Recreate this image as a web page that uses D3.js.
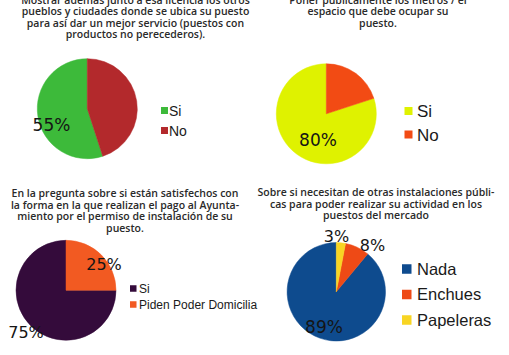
<!DOCTYPE html>
<html><head><meta charset="utf-8">
<script src="https://cdn.jsdelivr.net/npm/d3@7"></script>
<style>body{margin:0;background:#fff}svg{display:block}</style>
</head><body>
<svg id="c" width="509" height="355"></svg>
<script>
// Chart 1
const cats1 = ["Si", "No"];
const vals1 = [55, 45];
const cols1 = ["#3dba3a", "#b3292c"];
const title1 = ["Mostrar además junto a esa licencia los otros", "pueblos y ciudades donde se ubica su puesto", "para así dar un mejor servicio (puestos con", "productos no perecederos)."];
// Chart 2
const cats2 = ["Si", "No"];
const vals2 = [80, 20];
const cols2 = ["#dff200", "#f24b14"];
const title2 = ["Poner públicamente los metros / el", "espacio que debe ocupar su", "puesto."];
// Chart 3
const cats3 = ["Si", "Piden Poder Domicilia"];
const vals3 = [75, 25];
const cols3 = ["#340b3b", "#f25a22"];
const title3 = ["En la pregunta sobre si están satisfechos con", "la forma en la que realizan el pago al Ayunta-", "miento por el permiso de instalación de su", "puesto."];
// Chart 4
const cats4 = ["Nada", "Enchues", "Papeleras"];
const vals4 = [89, 8, 3];
const cols4 = ["#0e4b8e", "#ee4a16", "#f8d523"];
const title4 = ["Sobre si necesitan de otras instalaciones públi-", "cas para poder realizar su actividad en los", "puestos del mercado"];

const svg = d3.select("#c");
const pie = d3.pie().sort(null).startAngle(0).endAngle(-2 * Math.PI);

const charts = [
  {cats: cats1, vals: vals1, cols: cols1, title: title1, tx: 135.5, ty: 4, lh: 11.4,
   cx: 87.3, cy: 108.7, r: 50,
   labels: [{i: 0, x: 51.5, y: 130.5, fs: 17}],
   lx: 161, ly: 110.5, ldy: 20, sq: 7, lfs: 14, ltx: 169},
  {cats: cats2, vals: vals2, cols: cols2, title: title2, tx: 378, ty: 4, lh: 11.4,
   cx: 326.3, cy: 113.8, r: 50,
   labels: [{i: 0, x: 318, y: 146, fs: 17}],
   lx: 404.5, ly: 111, ldy: 23.5, sq: 8, lfs: 17, ltx: 417},
  {cats: cats3, vals: vals3, cols: cols3, title: title3, tx: 125, ty: 197, lh: 11.5,
   cx: 66, cy: 290.3, r: 50,
   labels: [{i: 1, x: 104, y: 270, fs: 16}, {i: 0, x: 26, y: 338, fs: 16}],
   lx: 130, ly: 288.5, ldy: 16, sq: 6.5, lfs: 12, ltx: 139},
  {cats: cats4, vals: vals4, cols: cols4, title: title4, tx: 376, ty: 196.3, lh: 11.4,
   cx: 336.3, cy: 291.8, r: 49.2,
   labels: [{i: 2, x: 336.5, y: 242, fs: 16}, {i: 1, x: 372.5, y: 251, fs: 16}, {i: 0, x: 324, y: 333, fs: 17}],
   lx: 402, ly: 269, ldy: 25.5, sq: 9.5, lfs: 16.5, ltx: 417}
];

charts.forEach(c => {
  const g = svg.append("g");
  // title
  g.append("text")
    .attr("text-anchor", "middle")
    .attr("font-family", "'Open Sans', sans-serif")
    .attr("font-weight", 600)
    .attr("font-size", 10.5)
    .attr("fill", "#2a2a2a")
    .selectAll("tspan").data(c.title).join("tspan")
    .attr("x", c.tx).attr("y", (d, i) => c.ty + i * c.lh)
    .text(d => d);
  // pie
  const arcs = pie(c.vals);
  const arc = d3.arc().innerRadius(0).outerRadius(c.r);
  g.append("g").attr("transform", `translate(${c.cx},${c.cy})`)
    .selectAll("path").data(arcs).join("path")
    .attr("d", arc)
    .attr("fill", (d, i) => c.cols[i])
    .attr("stroke", (d, i) => c.cols[i])
    .attr("stroke-width", 0.5);
  // labels
  g.selectAll("text.lab").data(c.labels).join("text")
    .attr("class", "lab")
    .attr("x", d => d.x).attr("y", d => d.y)
    .attr("text-anchor", "middle")
    .attr("font-family", "'DejaVu Sans', sans-serif")
    .attr("font-size", d => d.fs)
    .attr("fill", "#151515")
    .text(d => c.vals[d.i] + "%");
  // legend
  const lg = g.selectAll("g.leg").data(c.cats).join("g")
    .attr("class", "leg")
    .attr("transform", (d, i) => `translate(0,${c.ly + i * c.ldy})`);
  lg.append("rect")
    .attr("x", c.lx).attr("y", -c.sq / 2)
    .attr("width", c.sq).attr("height", c.sq)
    .attr("fill", (d, i) => c.cols[i]);
  lg.append("text")
    .attr("x", c.ltx).attr("y", 0).attr("dy", "0.36em")
    .attr("font-family", "'Liberation Sans', Arial, sans-serif")
    .attr("font-size", c.lfs)
    .attr("fill", "#1a1a1a")
    .text(d => d);
});
</script>
</body></html>
